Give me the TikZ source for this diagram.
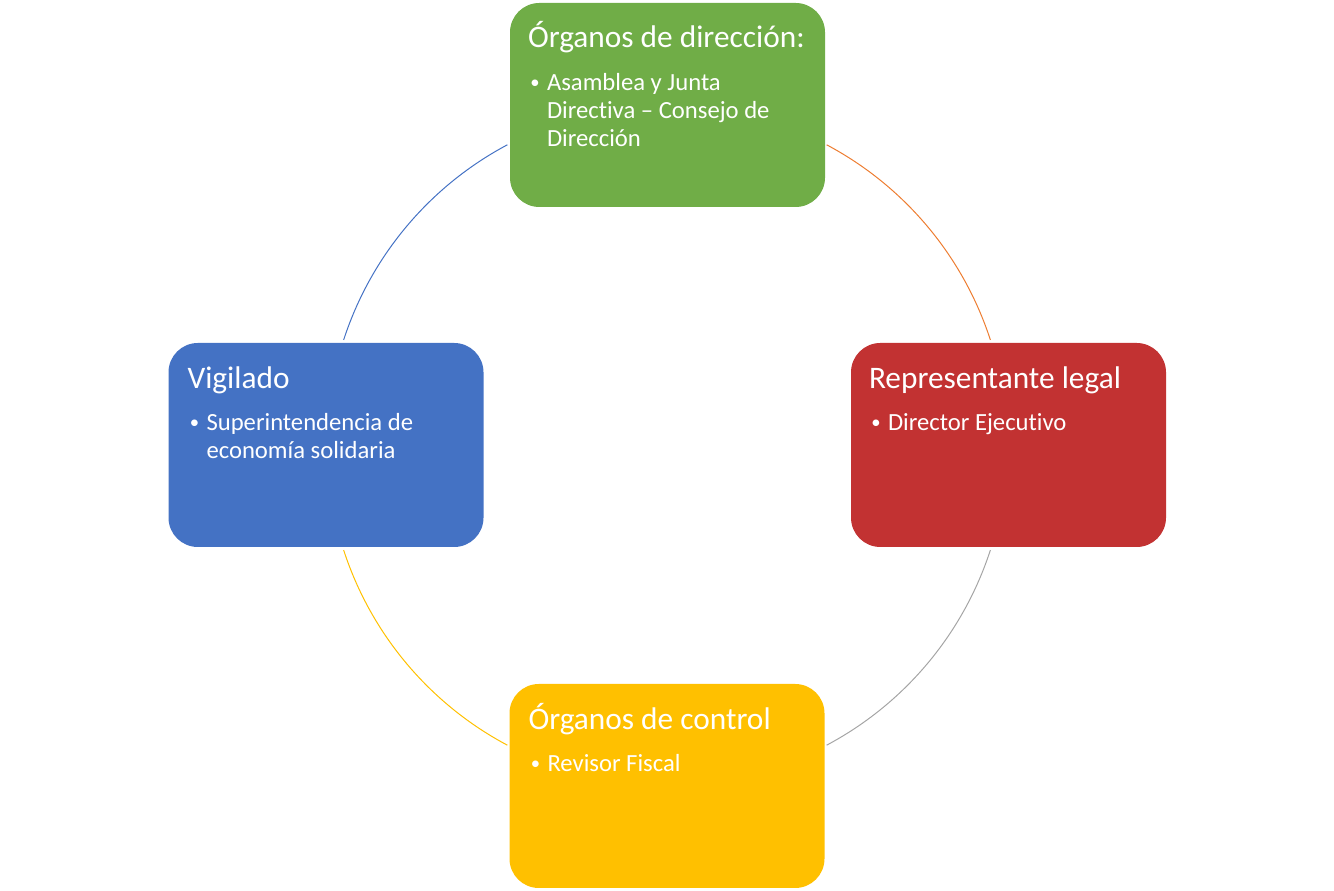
\documentclass[tikz,border=0pt]{standalone}
\usepackage{fontspec}
\setmainfont{Carlito}[Ligatures={NoCommon}]
\usetikzlibrary{calc}
\definecolor{cgreen}{HTML}{70AD47}
\definecolor{cred}{HTML}{C23232}
\definecolor{cyellow}{HTML}{FFC000}
\definecolor{cblue}{HTML}{4472C4}
\definecolor{corange}{HTML}{ED7D31}
\definecolor{cgray}{HTML}{A5A5A5}
\newcommand{\bitem}{\makebox[13.5pt][l]{\hspace*{1pt}\raisebox{1.5pt}{\fontsize{14}{14}\selectfont\textbullet}}}
\tikzset{
  box/.style={rectangle, rounded corners=22pt, minimum width=236.25pt, minimum height=153pt, inner sep=0pt, draw=none},
  ttl/.style={anchor=base west, inner sep=0pt, text=white, font=\fontsize{23.5}{28}\selectfont},
  bdy/.style={anchor=base west, inner sep=0pt, text=white, font=\fontsize{18.5}{21}\selectfont},
  ring/.style={line width=0.75pt}
}
\begin{document}
\begin{tikzpicture}[x=0.75pt,y=0.75pt]
\useasboundingbox (0,0) rectangle (1334,891);
\coordinate (c) at (667,446);
% arcs
\draw[ring,cblue] ($(c)+(162:340)$) arc[start angle=162, end angle=118, radius=340];
\draw[ring,corange] ($(c)+(62:340)$) arc[start angle=62, end angle=18, radius=340];
\draw[ring,cgray] ($(c)+(-18:340)$) arc[start angle=-18, end angle=-62, radius=340];
\draw[ring,cyellow] ($(c)+(-118:340)$) arc[start angle=-118, end angle=-162, radius=340];
% boxes
\node[box, fill=cgreen] (g) at (667.5,786) {};
\node[box, fill=cred] (r) at (1008.5,446) {};
\node[box, fill=cyellow] (y) at (667,105) {};
\node[box, fill=cblue] (b) at (326,446) {};
% texts
\node[ttl] (gt) at ($(g.north west)+(18,-45)$) {Órganos de dirección:};
\node[bdy] (gb) at ($(g.north west)+(19,-88)$) {\begin{tabular}[t]{@{}l@{}}\bitem Asamblea y Junta\\\hspace*{13.5pt}Directiva – Consejo de\\\hspace*{13.5pt}Dirección\end{tabular}};
\node[ttl] (rt) at ($(r.north west)+(18,-46)$) {Representante legal};
\node[bdy] (rb) at ($(r.north west)+(19,-88)$) {\bitem Director Ejecutivo};
\node[ttl] (yt) at ($(y.north west)+(19,-46)$) {Órganos de control};
\node[bdy] (yb) at ($(y.north west)+(20,-88)$) {\bitem Revisor Fiscal};
\node[ttl] (bt) at ($(b.north west)+(19,-46)$) {Vigilado};
\node[bdy] (bb) at ($(b.north west)+(20,-88)$) {\begin{tabular}[t]{@{}l@{}}\bitem Superintendencia de\\\hspace*{13.5pt}economía solidaria\end{tabular}};
\end{tikzpicture}
\end{document}
